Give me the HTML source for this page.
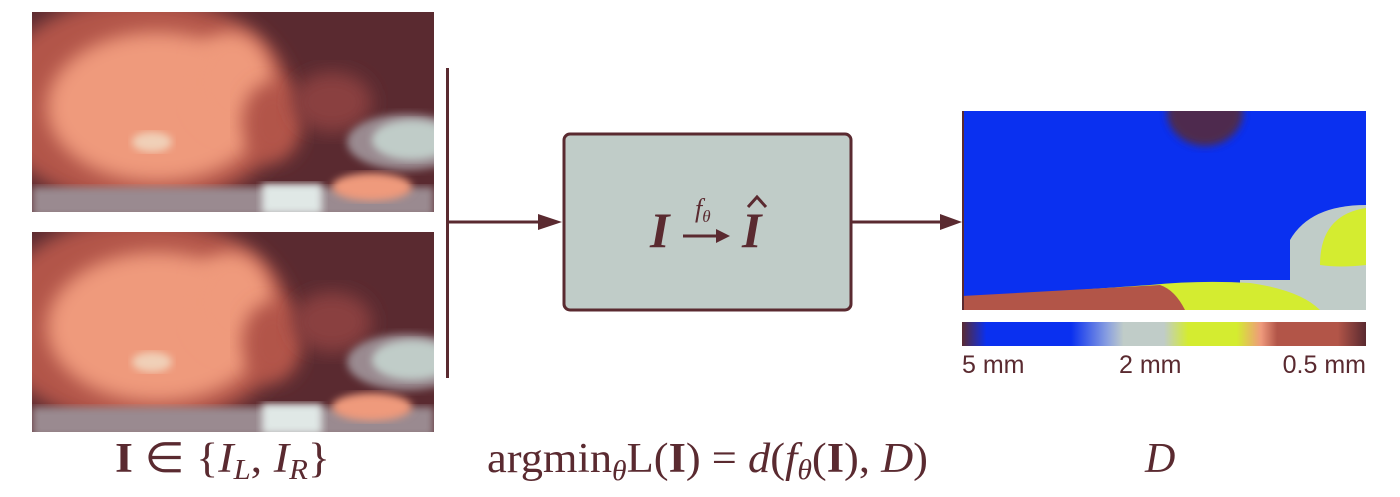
<!DOCTYPE html>
<html><head><meta charset="utf-8"><style>
html,body{margin:0;padding:0;background:#fff;width:1400px;height:497px;overflow:hidden}
svg{display:block}
.m{font-family:"Liberation Serif",serif;fill:#5a2a30}
.s{font-family:"Liberation Sans",sans-serif;fill:#5a2a30;font-size:25px}
</style></head><body>
<svg width="1400" height="497" viewBox="0 0 1400 497">
<defs>
<filter id="bl" x="-20%" y="-20%" width="140%" height="140%"><feGaussianBlur stdDeviation="9"/></filter>
<filter id="bl2"><feGaussianBlur stdDeviation="4"/></filter>
<clipPath id="c1"><rect x="0" y="0" width="402" height="200"/></clipPath>
<clipPath id="cd"><rect x="962" y="111" width="404" height="199"/></clipPath>
<linearGradient id="cb" x1="0" x2="1">
<stop offset="0" stop-color="#5a2a30"/><stop offset="0.06" stop-color="#0a30f0"/>
<stop offset="0.27" stop-color="#0a30f0"/><stop offset="0.36" stop-color="#8aa0e0"/>
<stop offset="0.4" stop-color="#c0ccc8"/><stop offset="0.5" stop-color="#c0ccc8"/>
<stop offset="0.56" stop-color="#d4ec30"/><stop offset="0.68" stop-color="#d4ec30"/>
<stop offset="0.74" stop-color="#ef9a7c"/><stop offset="0.78" stop-color="#b25548"/>
<stop offset="0.93" stop-color="#b25548"/><stop offset="1" stop-color="#5a2a30"/>
</linearGradient>
<g id="photo">
<g clip-path="url(#c1)">
<rect width="402" height="200" fill="#5a2a30"/>
<ellipse cx="110" cy="90" rx="150" ry="105" fill="#b25548" filter="url(#bl)"/>
<ellipse cx="125" cy="95" rx="110" ry="75" fill="#ef9a7c" filter="url(#bl)"/>
<ellipse cx="200" cy="70" rx="40" ry="50" fill="#ef9a7c" filter="url(#bl)"/>
<ellipse cx="240" cy="110" rx="30" ry="40" fill="#b25548" filter="url(#bl)"/>
<ellipse cx="300" cy="90" rx="40" ry="30" fill="#8a4040" filter="url(#bl)"/>
<ellipse cx="375" cy="130" rx="60" ry="28" fill="#9a8a90" filter="url(#bl2)"/>
<ellipse cx="380" cy="128" rx="40" ry="20" fill="#c0ccc8" filter="url(#bl2)"/>
<rect x="0" y="175" width="402" height="30" fill="#9a8a90" filter="url(#bl2)"/>
<rect x="230" y="172" width="60" height="30" fill="#e0e8e6" filter="url(#bl2)"/>
<ellipse cx="340" cy="175" rx="40" ry="14" fill="#ef9a7c" filter="url(#bl2)"/>
<ellipse cx="120" cy="130" rx="20" ry="10" fill="#f0d0b8" filter="url(#bl2)"/>
</g>
</g>
</defs>

<use href="#photo" x="32" y="12"/>
<use href="#photo" x="32" y="232"/>

<line x1="447.5" y1="68" x2="447.5" y2="378" stroke="#5a2a30" stroke-width="3"/>
<line x1="447" y1="222" x2="545" y2="222" stroke="#5a2a30" stroke-width="3"/>
<polygon points="538,214 562,222 538,230" fill="#5a2a30"/>

<rect x="564" y="134" width="287" height="176" rx="6" fill="#c0ccc8" stroke="#5a2a30" stroke-width="3"/>
<text x="650" y="247" class="m" font-size="50" font-style="italic" font-weight="bold">I</text>
<line x1="683" y1="236" x2="724" y2="236" stroke="#5a2a30" stroke-width="3"/>
<polygon points="716,229 730,236 716,243" fill="#5a2a30"/>
<text x="695" y="217" class="m" font-size="26" font-style="italic">f<tspan font-size="17" dy="5">θ</tspan></text>
<text x="742" y="247" class="m" font-size="50" font-style="italic" font-weight="bold">I</text>
<path d="M748,207 L757,197 L766,207" fill="none" stroke="#5a2a30" stroke-width="3"/>

<line x1="851" y1="222" x2="945" y2="222" stroke="#5a2a30" stroke-width="3"/>
<polygon points="940,214 962,222 940,230" fill="#5a2a30"/>

<g clip-path="url(#cd)">
<rect x="962" y="111" width="404" height="199" fill="#0a30f0"/>
<ellipse cx="1205" cy="112" rx="38" ry="34" fill="#5a2a30" opacity="0.85" filter="url(#bl2)"/>
<path d="M1290,310 L1290,240 Q1310,205 1366,205 L1366,310 Z" fill="#c0ccc8"/>
<path d="M1320,265 Q1320,215 1366,208 L1366,265 Q1340,268 1320,265 Z" fill="#d4ec30"/>
<rect x="1240" y="280" width="126" height="30" fill="#c0ccc8"/>
<path d="M962,298 L1150,285 Q1200,280 1250,283 Q1300,290 1320,310 L962,310 Z" fill="#d4ec30"/>
<path d="M962,296 L1160,285 Q1175,290 1185,310 L962,310 Z" fill="#b25548"/>
<rect x="962" y="111" width="2" height="199" fill="#5a2a30"/>
</g>
<rect x="962" y="322" width="404" height="24" fill="url(#cb)"/>
<text x="962" y="373" class="s">5 mm</text>
<text x="1119" y="373" class="s">2 mm</text>
<text x="1366" y="373" class="s" text-anchor="end">0.5 mm</text>

<text x="115" y="472" class="m" font-size="42" textLength="215" lengthAdjust="spacingAndGlyphs"><tspan font-weight="bold">I</tspan> ∈ {<tspan font-style="italic">I</tspan><tspan font-style="italic" font-size="28" dy="7">L</tspan><tspan dy="-7">, </tspan><tspan font-style="italic">I</tspan><tspan font-style="italic" font-size="28" dy="7">R</tspan><tspan dy="-7">}</tspan></text>
<text x="487" y="472" class="m" font-size="42" textLength="441" lengthAdjust="spacingAndGlyphs">argmin<tspan font-style="italic" font-size="28" dy="8">θ</tspan><tspan dy="-8">L(</tspan><tspan font-weight="bold">I</tspan>) = <tspan font-style="italic">d</tspan>(<tspan font-style="italic">f</tspan><tspan font-style="italic" font-size="28" dy="7">θ</tspan><tspan dy="-7">(</tspan><tspan font-weight="bold">I</tspan>), <tspan font-style="italic">D</tspan>)</text>
<text x="1145" y="472" class="m" font-size="42" font-style="italic">D</text>
</svg>
</body></html>
